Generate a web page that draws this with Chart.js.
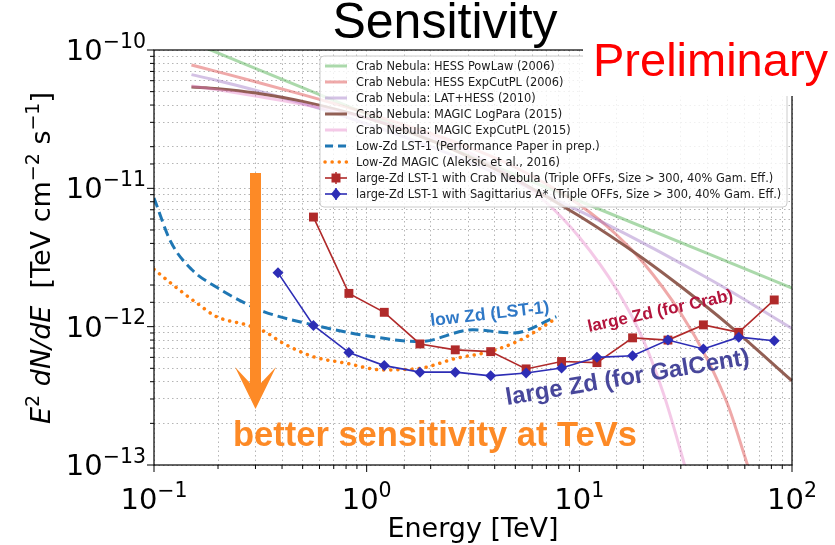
<!DOCTYPE html>
<html>
<head>
<meta charset="utf-8">
<script src="https://cdn.jsdelivr.net/npm/chart.js@4.4.1/dist/chart.umd.min.js"></script>
<style>
  body { margin: 0; background: #fff; }
</style>
</head>
<body>
<canvas id="sens" width="835" height="545"></canvas>
<script>
// Crab Nebula reference spectra, E^2 dN/dE vs energy (TeV)
const hessPowE = [0.15, 1, 10, 100];
const hessPowF = [1.14e-10, 3.45e-11, 8.1e-12, 1.9e-12];

const hessExpE = [0.15, 0.2, 0.3, 0.5, 1, 2, 3, 5, 10, 15, 20, 30, 40, 50, 60, 70];
const hessExpF = [7.8e-11, 6.95e-11, 5.9e-11, 4.76e-11, 3.5e-11, 2.49e-11, 1.99e-11, 1.42e-11,
                  7.6e-12, 4.6e-12, 2.9e-12, 1.25e-12, 5.8e-13, 2.7e-13, 1.15e-13, 5.5e-14];

const latHessE = [0.15, 0.2, 0.3, 0.5, 1, 2, 3, 5, 10, 20, 30, 50, 100];
const latHessF = [6.64e-11, 6.0e-11, 5.12e-11, 4.11e-11, 2.93e-11, 2.0e-11, 1.56e-11, 1.12e-11,
                  6.87e-12, 4.02e-12, 2.87e-12, 1.85e-12, 9.7e-13];

const magicLpE = [0.15, 0.2, 0.3, 0.5, 1, 2, 3, 5, 10, 20, 30, 50, 100];
const magicLpF = [5.41e-11, 5.25e-11, 4.89e-11, 4.25e-11, 3.23e-11, 2.22e-11, 1.7e-11, 1.16e-11,
                  6.3e-12, 3.1e-12, 1.95e-12, 1.04e-12, 4.06e-13];

const magicEcE = [0.15, 0.2, 0.3, 0.5, 1, 2, 3, 5, 7, 10, 15, 20, 25, 30, 35];
const magicEcF = [5.5e-11, 5.15e-11, 4.65e-11, 4.05e-11, 3.22e-11, 2.36e-11, 1.83e-11, 1.18e-11,
                  7.9e-12, 4.43e-12, 1.85e-12, 8.0e-13, 3.2e-13, 1.25e-13, 5.3e-14];

// sensitivity curves
const lstLowE = [0.1, 0.12, 0.15, 0.2, 0.27, 0.33, 0.56, 1.0, 1.78, 3.16, 4.9, 7.8];
const lstLowF = [8.5e-12, 4.1e-12, 2.6e-12, 1.9e-12, 1.47e-12, 1.28e-12, 1.03e-12, 8.6e-13,
                 7.8e-13, 9.5e-13, 9.0e-13, 1.18e-12];

const magicLowE = [0.1, 0.123, 0.159, 0.197, 0.272, 0.332, 0.404, 0.56, 0.8, 1.19, 1.78, 2.63, 3.78, 5.27, 7.8];
const magicLowF = [2.6e-12, 2.0e-12, 1.48e-12, 1.18e-12, 1.03e-12, 9.2e-13, 7.6e-13, 6.07e-13,
                   5.44e-13, 4.87e-13, 5.0e-13, 5.9e-13, 6.6e-13, 8.0e-13, 1.15e-12];

const crabZdE = [0.562, 0.825, 1.21, 1.78, 2.61, 3.83, 5.62, 8.25, 12.1, 17.8, 26.1, 38.3, 56.2, 82.5];
const crabZdF = [6.2e-12, 1.74e-12, 1.27e-12, 7.5e-13, 6.8e-13, 6.6e-13, 4.95e-13, 5.6e-13,
                 5.5e-13, 8.3e-13, 8.0e-13, 1.03e-12, 9.1e-13, 1.56e-12];

const sgrZdE = [0.383, 0.562, 0.825, 1.21, 1.78, 2.61, 3.83, 5.62, 8.25, 12.1, 17.8, 26.1, 38.3, 56.2, 82.5];
const sgrZdF = [2.45e-12, 1.02e-12, 6.5e-13, 5.23e-13, 4.69e-13, 4.69e-13, 4.41e-13, 4.63e-13,
                5.03e-13, 6.0e-13, 6.17e-13, 8.0e-13, 6.9e-13, 8.4e-13, 7.9e-13];

const legendLabels = [
  'Crab Nebula: HESS PowLaw (2006)',
  'Crab Nebula: HESS ExpCutPL (2006)',
  'Crab Nebula: LAT+HESS (2010)',
  'Crab Nebula: MAGIC LogPara (2015)',
  'Crab Nebula: MAGIC ExpCutPL (2015)',
  'Low-Zd LST-1 (Performance Paper in prep.)',
  'Low-Zd MAGIC (Aleksic et al., 2016)',
  'large-Zd LST-1 with Crab Nebula (Triple OFFs, Size > 300, 40% Gam. Eff.)',
  'large-Zd LST-1 with Sagittarius A* (Triple OFFs, Size > 300, 40% Gam. Eff.)'
];

const MPL = "'DejaVu Sans', sans-serif";
const SLIDE = "'Liberation Sans', Arial, sans-serif";

const pts = (e, f) => e.map((v, i) => ({x: v, y: f[i]}));
const curve = (i, e, f, color, w) => ({
  label: legendLabels[i], data: pts(e, f), borderColor: color, borderWidth: w,
  pointRadius: 0, cubicInterpolationMode: 'monotone'
});

const datasets = [
  curve(0, hessPowE, hessPowF, 'rgba(44,160,44,0.4)', 3),
  curve(1, hessExpE, hessExpF, 'rgba(214,39,40,0.4)', 3),
  curve(2, latHessE, latHessF, 'rgba(148,103,189,0.4)', 3),
  curve(3, magicLpE, magicLpF, 'rgba(140,86,75,0.95)', 3),
  curve(4, magicEcE, magicEcF, 'rgba(227,119,194,0.4)', 3),
  Object.assign(curve(5, lstLowE, lstLowF, '#1f77b4', 3), {borderDash: [10, 5]}),
  Object.assign(curve(6, magicLowE, magicLowF, '#ff7f0e', 3.5), {borderDash: [0.1, 7], borderCapStyle: 'round'}),
  {label: legendLabels[7], data: pts(crabZdE, crabZdF), borderColor: '#b02a2a', backgroundColor: '#b02a2a',
   borderWidth: 1.6, pointStyle: 'rect', pointRadius: 6.3, pointBorderWidth: 0},
  {label: legendLabels[8], data: pts(sgrZdE, sgrZdF), borderColor: '#2d2db5', backgroundColor: '#2d2db5',
   borderWidth: 1.6, pointStyle: 'rectRot', pointRadius: 5.5, pointBorderWidth: 0}
];
datasets.forEach((d, i) => { d.order = datasets.length - i; d.tension = 0; });

const isMajor = v => Math.abs(Math.log10(v) - Math.round(Math.log10(v))) < 1e-6;

function runs(ctx, parts, x, y, align) {
  const fnt = p => `${p[2] || ''} ${p[1]}px ${MPL}`;
  let w = 0;
  parts.forEach(p => { ctx.font = fnt(p); w += ctx.measureText(p[0]).width; });
  let cx = align === 'right' ? x - w : align === 'center' ? x - w / 2 : x;
  ctx.textAlign = 'left';
  parts.forEach(p => {
    ctx.font = fnt(p);
    ctx.fillText(p[0], cx, y - (p[3] || 0));
    cx += ctx.measureText(p[0]).width;
  });
}

function powLabel(v) {
  const n = Math.round(Math.log10(v));
  return [['10', 29], [(n < 0 ? '\u2212' : '') + Math.abs(n), 20.5, '', 12.5]];
}

function line(ctx, x1, y1, x2, y2) {
  ctx.beginPath(); ctx.moveTo(x1, y1); ctx.lineTo(x2, y2); ctx.stroke();
}

const overlay = {
  id: 'overlay',
  afterDatasetsDraw(chart) {
    const ctx = chart.ctx, ca = chart.chartArea;
    const xs = chart.scales.x, ys = chart.scales.y;
    ctx.save();

    // frame + ticks
    ctx.strokeStyle = '#000'; ctx.lineWidth = 1.2; ctx.setLineDash([]);
    ctx.strokeRect(ca.left, ca.top, ca.right - ca.left, ca.bottom - ca.top);
    ctx.lineWidth = 1;
    xs.ticks.forEach(t => {
      const p = xs.getPixelForValue(t.value);
      line(ctx, p, ca.bottom, p, ca.bottom + (isMajor(t.value) ? 7 : 4));
    });
    ys.ticks.forEach(t => {
      const p = ys.getPixelForValue(t.value);
      line(ctx, ca.left, p, ca.left - (isMajor(t.value) ? 7 : 4), p);
    });

    // tick labels
    ctx.fillStyle = '#000'; ctx.textBaseline = 'alphabetic';
    xs.ticks.filter(t => isMajor(t.value)).forEach(t => {
      runs(ctx, powLabel(t.value), xs.getPixelForValue(t.value), 509, 'center');
    });
    ys.ticks.filter(t => isMajor(t.value)).forEach(t => {
      runs(ctx, powLabel(t.value), 146, ys.getPixelForValue(t.value) + 10, 'right');
    });

    // axis titles
    runs(ctx, [['Energy [TeV]', 27]], (ca.left + ca.right) / 2, 537, 'center');
    ctx.save();
    ctx.translate(50, 258); ctx.rotate(-Math.PI / 2);
    runs(ctx, [['E', 27, 'italic'], ['2', 19, '', 11], [' ', 27], ['dN/dE', 27, 'italic'],
               ['  [TeV cm', 27], ['\u22122', 19, '', 11], [' s', 27], ['\u22121', 19, '', 11], [']', 27]],
         0, 0, 'center');
    ctx.restore();

    // legend
    const lx = 320, ly = 56, lw = 467, lh = 151;
    ctx.beginPath(); ctx.roundRect(lx, ly, lw, lh, 4);
    ctx.fillStyle = 'rgba(255,255,255,0.8)'; ctx.fill();
    ctx.strokeStyle = '#cccccc'; ctx.lineWidth = 1; ctx.stroke();
    datasets.forEach((d, i) => {
      const cy = 66 + 16 * i;
      ctx.strokeStyle = d.borderColor; ctx.lineWidth = d.borderWidth;
      ctx.setLineDash(d.borderDash ? (i === 5 ? [8, 5] : d.borderDash) : []);
      ctx.lineCap = d.borderCapStyle || 'butt';
      line(ctx, 325, cy, 347, cy);
      ctx.setLineDash([]); ctx.lineCap = 'butt';
      if (d.pointStyle) {
        ctx.fillStyle = d.backgroundColor;
        ctx.lineWidth = 1.5;
        line(ctx, 336, cy - 6, 336, cy + 6);
        ctx.beginPath();
        if (d.pointStyle === 'rect') ctx.rect(331.5, cy - 4.5, 9, 9);
        else { ctx.moveTo(336, cy - 6); ctx.lineTo(341, cy); ctx.lineTo(336, cy + 6); ctx.lineTo(331, cy); ctx.closePath(); }
        ctx.fill();
      }
      ctx.fillStyle = '#1a1a1a'; ctx.font = `11.4px ${MPL}`;
      ctx.textBaseline = 'middle'; ctx.textAlign = 'left';
      ctx.fillText(d.label, 356, cy + 1);
    });
    ctx.textBaseline = 'alphabetic';

    // annotations
    const note = (txt, x, y, ang, size, color) => {
      ctx.save(); ctx.translate(x, y); ctx.rotate(ang * Math.PI / 180);
      ctx.font = `bold ${size}px ${SLIDE}`; ctx.fillStyle = color; ctx.textAlign = 'left';
      ctx.fillText(txt, 0, 0); ctx.restore();
    };
    note('low Zd (LST-1)', 431, 326, -6.5, 17.5, '#2f78c6');
    note('large Zd (for Crab)', 589, 332, -12.4, 17, '#b3143c');
    note('large Zd (for GalCent)', 507, 405, -9.5, 24, '#48479b');
    note('better sensitivity at TeVs', 233, 446, 0, 34.5, '#fd8a26');

    // arrow
    ctx.fillStyle = '#fd8a26';
    ctx.beginPath();
    ctx.moveTo(250, 173); ctx.lineTo(261, 173); ctx.lineTo(261, 383); ctx.lineTo(276, 367);
    ctx.lineTo(255.5, 409); ctx.lineTo(235, 367); ctx.lineTo(250, 383); ctx.closePath();
    ctx.fill();

    // slide overlays
    ctx.fillStyle = '#fff';
    ctx.fillRect(583, 0, 252, 96);
    ctx.fillStyle = '#ff0000'; ctx.font = `47px ${SLIDE}`; ctx.textAlign = 'left';
    ctx.fillText('Preliminary', 593, 76);
    ctx.fillStyle = '#000'; ctx.font = `50px ${SLIDE}`; ctx.textAlign = 'center';
    ctx.fillText('Sensitivity', 445, 38);
    ctx.restore();
  }
};

new Chart(document.getElementById('sens'), {
  type: 'line',
  data: { datasets: datasets },
  options: {
    responsive: false,
    animation: false,
    devicePixelRatio: 1,
    events: [],
    layout: { padding: { left: 0, top: 50, right: 43, bottom: 0 } },
    plugins: { legend: { display: false }, tooltip: { enabled: false } },
    scales: {
      x: {
        type: 'logarithmic', min: 0.1, max: 100,
        afterFit: s => { s.height = 80; },
        ticks: { autoSkip: false, callback: () => '' },
        grid: { color: '#b5b5b5', lineWidth: 1, drawTicks: false },
        border: { display: false, dash: [1.5, 3] }
      },
      y: {
        type: 'logarithmic', min: 1e-13, max: 1e-10,
        afterFit: s => { s.width = 154; },
        ticks: { autoSkip: false, callback: () => '' },
        grid: { color: '#b5b5b5', lineWidth: 1, drawTicks: false },
        border: { display: false, dash: [1.5, 3] }
      }
    }
  },
  plugins: [overlay]
});
</script>
</body>
</html>
